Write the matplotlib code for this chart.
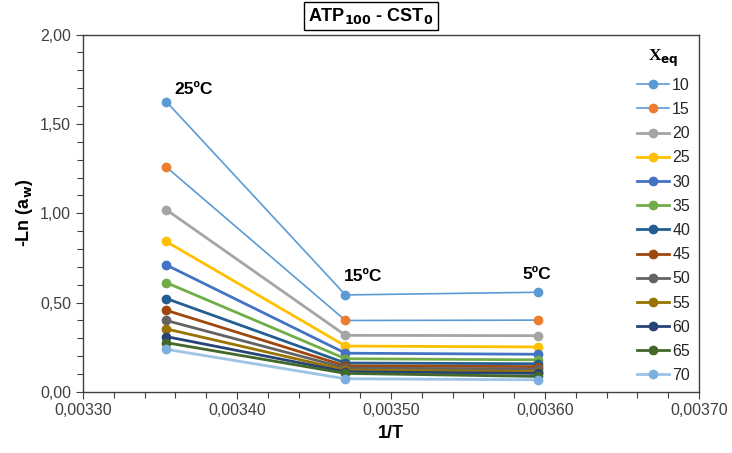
import matplotlib
matplotlib.use('Agg')
import matplotlib.pyplot as plt
from matplotlib.ticker import MultipleLocator, FuncFormatter

plt.rcParams['font.family'] = ['Liberation Sans', 'DejaVu Sans']

# 1/T for 25, 15 and 5 ºC
inv_t = [1 / 298.15, 1 / 288.15, 1 / 278.15]
temp_labels = ['25ºC', '15ºC', '5ºC']

x_eq = ['10', '15', '20', '25', '30', '35', '40', '45', '50', '55', '60', '65', '70']

s10 = [1.625, 0.543, 0.558]
s15 = [1.259, 0.400, 0.402]
s20 = [1.020, 0.317, 0.315]
s25 = [0.842, 0.257, 0.252]
s30 = [0.711, 0.217, 0.211]
s35 = [0.612, 0.186, 0.180]
s40 = [0.523, 0.162, 0.158]
s45 = [0.457, 0.146, 0.142]
s50 = [0.400, 0.134, 0.128]
s55 = [0.353, 0.122, 0.114]
s60 = [0.310, 0.113, 0.104]
s65 = [0.276, 0.104, 0.087]
s70 = [0.239, 0.074, 0.068]
series = [s10, s15, s20, s25, s30, s35, s40, s45, s50, s55, s60, s65, s70]

line_colors = ['#5B9BD5', '#5B9BD5', '#A5A5A5', '#FFC000', '#4472C4', '#70AD47', '#255E91',
               '#9E480E', '#636363', '#997300', '#264478', '#43682B', '#9DC3E6']
marker_colors = ['#5B9BD5', '#ED7D31', '#A5A5A5', '#FFC000', '#4472C4', '#70AD47', '#255E91',
                 '#9E480E', '#636363', '#997300', '#264478', '#43682B', '#7CAFDD']
widths = [1.2, 1.2, 2, 2, 2, 2, 2, 2, 2, 2, 2, 2, 2]

fig = plt.figure(figsize=(7.32, 4.53), dpi=100)
ax = fig.add_axes([0.1134, 0.1347, 0.8416, 0.7891])

for vals, lab, lc, mc, lw in zip(series, x_eq, line_colors, marker_colors, widths):
    ax.plot(inv_t, vals, color=lc, lw=lw, marker='o', ms=6,
            markerfacecolor=mc, markeredgecolor=mc, label=lab)

ax.set_xlim(0.00330, 0.00370)
ax.set_ylim(0, 2.0)
ax.xaxis.set_major_locator(MultipleLocator(0.0001))
ax.xaxis.set_minor_locator(MultipleLocator(0.00002))
ax.yaxis.set_major_locator(MultipleLocator(0.5))
ax.yaxis.set_minor_locator(MultipleLocator(0.1))
ax.xaxis.set_major_formatter(FuncFormatter(lambda v, p: ('%.5f' % v).replace('.', ',')))
ax.yaxis.set_major_formatter(FuncFormatter(lambda v, p: ('%.2f' % v).replace('.', ',')))
ax.tick_params(which='both', direction='out', colors='#404040', labelsize=11.5, width=0.8)
ax.tick_params(which='major', length=5)
ax.tick_params(which='minor', length=4)
ax.tick_params(axis='x', which='both', pad=3)
for sp in ax.spines.values():
    sp.set_color('#404040')
    sp.set_linewidth(1.0)

ax.set_xlabel('1/T', fontsize=13, fontweight='bold', labelpad=5)
ax.set_ylabel('-Ln (a$_\\mathbf{w}$)', fontsize=13, fontweight='bold', labelpad=4)

# temperature labels
ax.annotate(temp_labels[0], (inv_t[0], s10[0]), xytext=(6, 9), textcoords='offset points',
            fontsize=12.5, fontweight='bold', va='center')
ax.annotate(temp_labels[1], (inv_t[1], s10[1]), xytext=(-1, 13), textcoords='offset points',
            fontsize=12.5, fontweight='bold', va='center')
ax.annotate(temp_labels[2], (inv_t[2], s10[2]), xytext=(-11, 13), textcoords='offset points',
            fontsize=12.5, fontweight='bold', va='center')

leg = ax.legend(loc='upper left', bbox_to_anchor=(0.876, 1.004), frameon=False,
                fontsize=11.5, handlelength=2.0, handletextpad=0.2, labelspacing=0.575,
                title='X$_{\\mathbf{eq}}$', title_fontproperties={'family': 'Liberation Serif',
                                                                 'weight': 'bold', 'size': 12.5})
for t in leg.get_texts():
    t.set_color('#262626')

fig.text(0.507, 0.965, 'ATP$_{\\mathbf{100}}$ - CST$_{\\mathbf{0}}$', ha='center', va='center',
         fontsize=13, fontweight='bold',
         bbox=dict(boxstyle='square,pad=0.22', facecolor='white', edgecolor='black', lw=1))

fig.savefig('out.png', dpi=100)
